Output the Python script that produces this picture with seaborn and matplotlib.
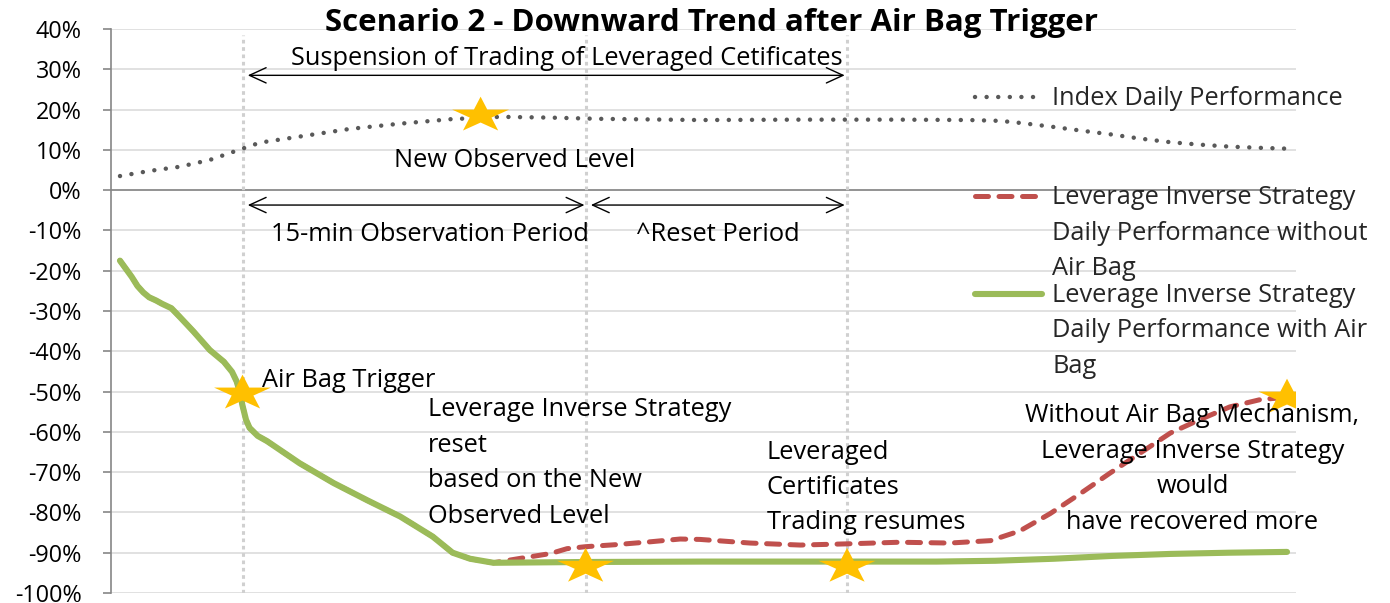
import numpy as np
import pandas as pd
import matplotlib
matplotlib.use("Agg")
import matplotlib.pyplot as plt
import seaborn as sns
from matplotlib.path import Path
from matplotlib.markers import MarkerStyle
from matplotlib.lines import Line2D

# ---------------- data ----------------
index_x = [0, 2.6, 5.1, 7.7, 10.5, 12.0, 15.4, 19.7, 24.0, 28.3, 32.6, 36.9, 41.1,
           49.7, 58.3, 66.8, 72.8, 75.4, 77.1, 79.7, 82.3, 85.0, 87.4, 90.0, 92.5,
           95.1, 97.7, 100]
index_y = [3.5, 4.8, 5.8, 7.5, 10.3, 11.8, 13.3, 15.2, 16.5, 17.6, 18.2, 18.0, 17.7,
           17.4, 17.5, 17.5, 17.4, 17.2, 16.7, 15.8, 14.8, 13.8, 12.8, 11.9, 11.3,
           10.8, 10.5, 10.3]

with_x = [0, 1.0, 1.5, 2.0, 2.5, 3.1, 3.6, 4.4, 5.1, 6.3, 7.7, 8.9, 9.6, 10.0, 10.3,
          10.5, 10.8, 11.1, 11.8, 12.6, 15.4, 18.3, 21.2, 24.0, 24.9, 26.8, 28.5, 30.0,
          32.0, 40, 50, 60, 70, 75, 80, 85, 90, 95, 100]
with_y = [-17.5, -21.5, -23.8, -25.4, -26.6, -27.4, -28.2, -29.3, -31.4, -35.1, -39.7,
          -42.6, -45.1, -47.5, -50.5, -53.5, -57.0, -59.0, -61.0, -62.3, -67.8, -72.7,
          -77.0, -81.0, -82.6, -86.0, -90.0, -91.5, -92.5, -92.3, -92.2, -92.2, -92.2,
          -92.0, -91.5, -90.8, -90.3, -90.0, -89.8]

without_x = [0, 1.0, 1.5, 2.0, 2.5, 3.1, 3.6, 4.4, 5.1, 6.3, 7.7, 8.9, 9.6, 10.0, 10.3,
             10.5, 10.8, 11.1, 11.8, 12.6, 15.4, 18.3, 21.2, 24.0, 24.9, 26.8, 28.5, 30.0,
             32.0, 34.3, 36.9, 38.3, 39.9, 42.5, 45.4, 48.0, 49.7, 54.0, 58.3, 62.3, 66.8,
             71.1, 74.6, 77.1, 79.7, 82.3, 84.8, 87.4, 90.0, 92.5, 95.1, 97.7, 100]
without_y = [-17.5, -21.5, -23.8, -25.4, -26.6, -27.4, -28.2, -29.3, -31.4, -35.1, -39.7,
             -42.6, -45.1, -47.5, -50.5, -53.5, -57.0, -59.0, -61.0, -62.3, -67.8, -72.7,
             -77.0, -81.0, -82.6, -86.0, -90.0, -91.5, -92.5, -91.4, -90.2, -89.0, -88.5,
             -88.0, -87.3, -86.6, -86.7, -87.6, -88.1, -87.8, -87.4, -87.6, -87.0, -84.6,
             -80.3, -75.3, -70.3, -65.3, -60.3, -57.0, -53.8, -52.0, -51.4]

star_x = [10.5, 30.9, 39.9, 62.3, 100]
star_y = [-50.0, 19.0, -93.0, -93.0, -51.0]

event_x = [10.5, 39.9, 62.3]

yticks = list(range(-100, 41, 10))

series_names = ["Index Daily Performance",
                "Leverage Inverse Strategy\nDaily Performance without\nAir Bag",
                "Leverage Inverse Strategy\nDaily Performance with Air\nBag"]

title = "Scenario 2 - Downward Trend after Air Bag Trigger"

# ---------------- style ----------------
sns.set_theme(style="white")
plt.rcParams['font.family'] = ['Open Sans', 'DejaVu Sans']

C_INDEX = "#595959"
C_RED = "#C0504D"
C_GREEN = "#9BBB59"
C_STAR = "#FFC000"
C_GRID = "#d9d9d9"
C_AXIS = "#868686"

FS = 18.3
LSP = 1.55

fig = plt.figure(figsize=(13.9, 6.03), dpi=100)
ax = fig.add_axes([111 / 1390, 1 - 593 / 603, (1296 - 111) / 1390, (593 - 29) / 603])

ax.set_xlim(-0.77, 100.77)
ax.set_ylim(-100, 40)
ax.set_yticks(yticks)
ax.set_yticklabels([f"{v}%" for v in yticks])
ax.set_xticks([])
ax.grid(axis="y", color=C_GRID, lw=1.1)
ax.set_axisbelow(True)
for s in ["top", "right", "bottom"]:
    ax.spines[s].set_visible(False)
ax.spines["left"].set_color(C_AXIS)
ax.spines["left"].set_linewidth(1.2)
ax.tick_params(axis="y", which="major", left=True, length=6, width=1.2,
               color=C_AXIS, pad=15, labelsize=16.8, labelcolor="black")
ax.axhline(0, color=C_AXIS, lw=1.2, zorder=1.5)

# event separators
ax.vlines(event_x, -100, 38.5, colors="#d0d0d0", lw=2.2,
          linestyles=(0, (1.2, 1.2)), zorder=1.6)

# series
df_index = pd.DataFrame({"x": index_x, "y": index_y})
df_without = pd.DataFrame({"x": without_x, "y": without_y})
df_with = pd.DataFrame({"x": with_x, "y": with_y})

dot_ls = (0, (0.01, 2.6))
dash_ls = (0, (2.6, 2.1))
sns.lineplot(data=df_index, x="x", y="y", ax=ax, color=C_INDEX, lw=3.2,
             linestyle=dot_ls, dash_capstyle="round", zorder=3)
sns.lineplot(data=df_without, x="x", y="y", ax=ax, color=C_RED, lw=3.6,
             linestyle=dash_ls, dash_capstyle="round", zorder=3)
sns.lineplot(data=df_with, x="x", y="y", ax=ax, color=C_GREEN, lw=4.4,
             solid_capstyle="round", solid_joinstyle="round", zorder=4)

# stars
ang = np.pi / 2 + np.arange(10) * np.pi / 5
rad = np.where(np.arange(10) % 2 == 0, 1.0, 0.382)
vx = rad * np.cos(ang) * 1.6
vy = rad * np.sin(ang)
vy = vy - (vy.max() + vy.min()) / 2
verts = np.column_stack([np.append(vx, vx[0]), np.append(vy, vy[0])])
codes = [Path.MOVETO] + [Path.LINETO] * 9 + [Path.CLOSEPOLY]
star = MarkerStyle(Path(verts, codes))
df_star = pd.DataFrame({"x": star_x, "y": star_y})
sns.scatterplot(data=df_star, x="x", y="y", ax=ax, marker=star, s=41 ** 2,
                color=C_STAR, edgecolor="none", linewidth=0, zorder=5, legend=False)
ax.set_xlabel("")
ax.set_ylabel("")

# arrows
arr = dict(arrowstyle="<->,head_length=1.2,head_width=0.55", color="black", lw=1.0,
           shrinkA=0, shrinkB=0, mutation_scale=10)
ax.annotate("", xy=(event_x[0] + 0.45, 28.5), xytext=(event_x[2] - 0.2, 28.5), arrowprops=arr, zorder=6)
ax.annotate("", xy=(event_x[0] + 0.45, -3.7), xytext=(event_x[1] - 0.1, -3.7), arrowprops=arr, zorder=6)
ax.annotate("", xy=(event_x[1] + 0.45, -3.7), xytext=(event_x[2] - 0.2, -3.7), arrowprops=arr, zorder=6)

# texts
tk = dict(fontsize=FS, color="black", zorder=7)
ax.text(38.3, 32.6, "Suspension of Trading of Leveraged Cetificates", ha="center", va="center", **tk)
ax.text(33.8, 7.3, "New Observed Level", ha="center", va="center", **tk)
ax.text(26.6, -10.9, "15-min Observation Period", ha="center", va="center", **tk)
ax.text(51.2, -10.9, "^Reset Period", ha="center", va="center", **tk)
ax.text(12.2, -47.3, "Air Bag Trigger", ha="left", va="center", **tk)
ax.text(26.4, -67.7, "Leverage Inverse Strategy\nreset\nbased on the New\nObserved Level",
        ha="left", va="center", linespacing=LSP, **tk)
ax.text(55.4, -73.8, "Leveraged\nCertificates\nTrading resumes",
        ha="left", va="center", linespacing=LSP, **tk)
ax.text(91.9, -69.2, "Without Air Bag Mechanism,\nLeverage Inverse Strategy\nwould\nhave recovered more",
        ha="center", va="center", multialignment="center", linespacing=LSP, **tk)

fig.text(712 / 1390, 1 - 23 / 603, title, ha="center", va="center",
         fontsize=22.5, fontweight="bold", color="black")

# legends
h_index = Line2D([], [], color=C_INDEX, lw=3.2, linestyle=dot_ls, dash_capstyle="round")
h_red = Line2D([], [], color=C_RED, lw=3.6, linestyle=dash_ls, dash_capstyle="round")
h_green = Line2D([], [], color=C_GREEN, lw=4.4, solid_capstyle="round")

leg_kw = dict(frameon=False, fontsize=FS, handlelength=2.65, handletextpad=0.38,
              borderpad=0, borderaxespad=0, bbox_transform=fig.transFigure,
              loc="center left", handleheight=1.2)
leg1 = ax.legend([h_index], [series_names[0]], bbox_to_anchor=(975 / 1390, 1 - 99 / 603), **leg_kw)
ax.add_artist(leg1)
leg2 = ax.legend([h_red, h_green], series_names[1:], bbox_to_anchor=(975 / 1390, 1 - 282 / 603),
                 labelspacing=0.08, **leg_kw)
for lg in (leg1, leg2):
    for t in lg.get_texts():
        t.set_linespacing(LSP)
    for col in lg._legend_handle_box.get_children():
        for item in col.get_children():
            item.align = "top"

fig.savefig("out.png", dpi=100)
